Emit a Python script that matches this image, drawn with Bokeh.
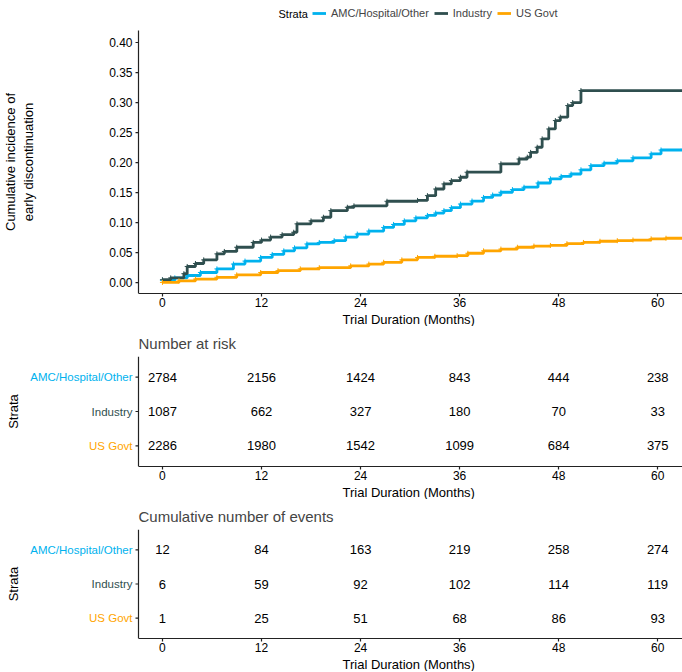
import math
from bokeh.plotting import figure
from bokeh.models import (Range1d, FixedTicker, Legend, LegendItem, Span, Title,
                          ColumnDataSource)
from bokeh.layouts import column
from bokeh.embed import file_html
from bokeh.resources import INLINE
from bokeh.core.properties import value

FONT = "Liberation Sans"

# ---------------- data ----------------
strata = ["AMC/Hospital/Other", "Industry", "US Govt"]
colors = ["#00B2EE", "#2F4F4F", "#FFA500"]
times = [0, 12, 24, 36, 48, 60]
y_ticks = [0.0, 0.05, 0.10, 0.15, 0.20, 0.25, 0.30, 0.35, 0.40]

amc_t = [0, 1.5, 3, 4.6, 6.6, 8.6, 10, 11.9, 13.3, 14.7, 16, 17.5, 19, 20.8, 22.2,
         23.6, 25, 26.8, 28, 29.3, 30.7, 32.1, 33.1, 34.1, 35, 36.1, 37.5, 38.9, 40,
         41, 42.4, 43.8, 45.5, 47, 48.3, 49.5, 50.7, 51.9, 53.5, 55.1, 57, 59.2, 60.4, 63]
amc_v = [0.004, 0.008, 0.012, 0.017, 0.023, 0.031, 0.036, 0.042, 0.047, 0.053, 0.058,
         0.0645, 0.067, 0.070, 0.076, 0.081, 0.086, 0.092, 0.097, 0.103, 0.108, 0.112,
         0.116, 0.120, 0.125, 0.131, 0.136, 0.142, 0.146, 0.1506, 0.155, 0.159, 0.166,
         0.173, 0.177, 0.181, 0.188, 0.195, 0.199, 0.203, 0.208, 0.2145, 0.221, 0.222]

ind_t = [0, 1, 2.6, 3, 4, 5, 6.6, 7.5, 9, 11, 12, 13.1, 14.5, 15.9, 16.3, 18, 19.5,
         20.4, 22.4, 23.2, 27.2, 30.9, 32.1, 33.1, 34.1, 35, 36.1, 36.9, 41, 43.2, 44.2,
         44.6, 45.4, 46, 46.8, 47.6, 48.2, 49.1, 49.7, 50.7, 63]
ind_v = [0.005, 0.008, 0.015, 0.027, 0.032, 0.038, 0.048, 0.052, 0.059, 0.067, 0.071,
         0.076, 0.080, 0.084, 0.098, 0.103, 0.109, 0.120, 0.1256, 0.128, 0.1356, 0.137,
         0.145, 0.156, 0.1645, 0.170, 0.1756, 0.184, 0.198, 0.206, 0.209, 0.217, 0.2256,
         0.2395, 0.256, 0.270, 0.2756, 0.295, 0.300, 0.320, 0.320]

us_t = [0, 2, 4, 6.6, 9, 11.9, 14, 16.7, 19, 22.8, 25, 26.8, 29, 30.9, 33, 35.7, 37,
        38.9, 41, 43, 45, 47, 49, 51, 53, 55.1, 57, 59.2, 61, 63]
us_v = [0.0005, 0.003, 0.006, 0.009, 0.013, 0.017, 0.020, 0.023, 0.025, 0.028, 0.031,
        0.034, 0.038, 0.042, 0.044, 0.045, 0.049, 0.053, 0.056, 0.059, 0.061, 0.062,
        0.065, 0.067, 0.069, 0.070, 0.071, 0.073, 0.074, 0.074]

at_risk_amc = [2784, 2156, 1424, 843, 444, 238]
at_risk_ind = [1087, 662, 327, 180, 70, 33]
at_risk_us = [2286, 1980, 1542, 1099, 684, 375]

events_amc = [12, 84, 163, 219, 258, 274]
events_ind = [6, 59, 92, 102, 114, 119]
events_us = [1, 25, 51, 68, 86, 93]

# ---------------- layout constants ----------------
X_START, X_END = -2.9, 63.0
W = 682
DATA_LEFT = 138                     # px where the data area (and y axis line) starts
PX_PER_UNIT = (W - DATA_LEFT) / (X_END - X_START)
FRAME_X_START = X_START - DATA_LEFT / PX_PER_UNIT
AXIS_COLOR = "#222222"
XTITLE_LEFT = 342


def px_to_x(px_from_axis):
    return X_START + px_from_axis / PX_PER_UNIT


def base_figure(height, y_range, top, bottom):
    p = figure(width=W, height=height, x_range=Range1d(FRAME_X_START, X_END),
               y_range=y_range, output_backend="svg", toolbar_location=None,
               min_border_left=0, min_border_right=0,
               min_border_top=top, min_border_bottom=bottom)
    p.grid.visible = False
    p.outline_line_color = None
    p.yaxis.visible = False
    xa = p.xaxis[0]
    xa.bounds = (X_START, X_END)
    xa.ticker = FixedTicker(ticks=times)
    xa.axis_line_color = AXIS_COLOR
    xa.axis_line_width = 1.2
    xa.major_tick_line_color = AXIS_COLOR
    xa.major_tick_line_width = 1.2
    xa.major_tick_out = 3
    xa.major_tick_in = 0
    xa.minor_tick_out = 0
    xa.minor_tick_in = 0
    xa.major_label_text_font = FONT
    xa.major_label_text_font_size = "12px"
    xa.major_label_text_color = "black"
    xa.major_label_standoff = 1
    p.add_layout(Title(text="Trial Duration (Months)", align="left",
                       offset=XTITLE_LEFT, text_font=FONT, text_font_size="13px",
                       text_font_style="normal", text_color="black", standoff=0),
                 "below")
    return p


def left_ticks(p, ys, labels, colors_, size):
    p.ray(x=[X_START] * len(ys), y=ys, length=3, length_units="screen",
          angle=math.pi, line_color=AXIS_COLOR, line_width=1.2)
    p.text(x=[X_START] * len(ys), y=ys, text=labels, x_offset=-6,
           text_align="right", text_baseline="middle", text_color=colors_,
           text_font=value(FONT), text_font_size=size)


# ---------------- main curve plot ----------------
Y_LO, Y_HI = -0.018, 0.42          # extent of the y axis
MAIN_TOP_PX = 30                    # space above the axis (legend lives there)
MAIN_AXIS_PX = 263                  # height of the axis
Y_PER_PX = (Y_HI - Y_LO) / MAIN_AXIS_PX
Y_FRAME_HI = Y_HI + MAIN_TOP_PX * Y_PER_PX
p1 = base_figure(326, Range1d(Y_LO, Y_FRAME_HI), 0, 33)
p1.segment(x0=[X_START], y0=[Y_LO], x1=[X_START], y1=[Y_HI], line_color=AXIS_COLOR,
           line_width=1.2)
left_ticks(p1, y_ticks, ["%.2f" % v for v in y_ticks], ["black"] * len(y_ticks), "12px")
p1.text(x=[px_to_x(-119)], y=[(Y_LO + Y_HI) / 2],
        text=["Cumulative incidence of\nearly discontinuation"], angle=math.pi / 2,
        text_align="center", text_baseline="middle", text_color="black",
        text_font=value(FONT), text_font_size="13px", text_line_height=1.15)

renderers = []
for tt, vv, c in [(amc_t, amc_v, colors[0]), (ind_t, ind_v, colors[1]), (us_t, us_v, colors[2])]:
    r = p1.step(tt, vv, mode="after", line_color=c, line_width=2.8)
    p1.scatter(tt, vv, marker="cross", size=5, line_color=c, line_width=1)
    renderers.append(r)

# legend title as text, legend items horizontally next to it
LEG_Y = Y_FRAME_HI - 13 * Y_PER_PX
p1.text(x=[px_to_x(278 - DATA_LEFT)], y=[LEG_Y], text=["Strata"], text_align="left",
        text_baseline="middle", text_color="black", text_font=value(FONT),
        text_font_size="11px")
legend = Legend(items=[LegendItem(label=s, renderers=[r]) for s, r in zip(strata, renderers)],
                orientation="horizontal", location=(312, 274), padding=0, margin=0,
                spacing=5, glyph_width=14, glyph_height=10, label_height=10,
                label_standoff=5, label_text_font=FONT, label_text_font_size="11px",
                border_line_color=None, background_fill_alpha=0)
p1.add_layout(legend, "center")


# ---------------- tables ----------------
n_rows = len(strata)
row_pos = [n_rows - i for i in range(n_rows)]   # top row first


def make_table(title, counts, height, top, bottom):
    p = base_figure(height, Range1d(0.4, n_rows + 0.6), top, bottom)
    p.add_layout(Span(location=X_START, dimension="height", line_color=AXIS_COLOR,
                      line_width=1.2))
    p.title.text = title
    p.title.text_font = FONT
    p.title.text_font_size = "15px"
    p.title.text_font_style = "normal"
    p.title.align = "left"
    p.title.offset = DATA_LEFT

    left_ticks(p, row_pos, strata, colors, "11.5px")
    p.text(x=[px_to_x(-125)], y=[(n_rows + 1) / 2], text=["Strata"], angle=math.pi / 2,
           text_align="center", text_baseline="middle", text_color="black",
           text_font=value(FONT), text_font_size="13px")

    xs, ys, txt = [], [], []
    for rp, row in zip(row_pos, counts):
        for t, n in zip(times, row):
            xs.append(t)
            ys.append(rp)
            txt.append(str(n))
    src = ColumnDataSource(dict(x=xs, y=ys, text=txt))
    p.text(x="x", y="y", text="text", source=src, text_font=value(FONT),
           text_font_size="13px", text_align="center", text_baseline="middle",
           text_color="black")
    return p


p2 = make_table("Number at risk", [at_risk_amc, at_risk_ind, at_risk_us], 173, 30, 32)
p3 = make_table("Cumulative number of events", [events_amc, events_ind, events_us], 172, 30, 31)

layout = column(p1, p2, p3)
open("out.html", "w").write(file_html(layout, INLINE))
